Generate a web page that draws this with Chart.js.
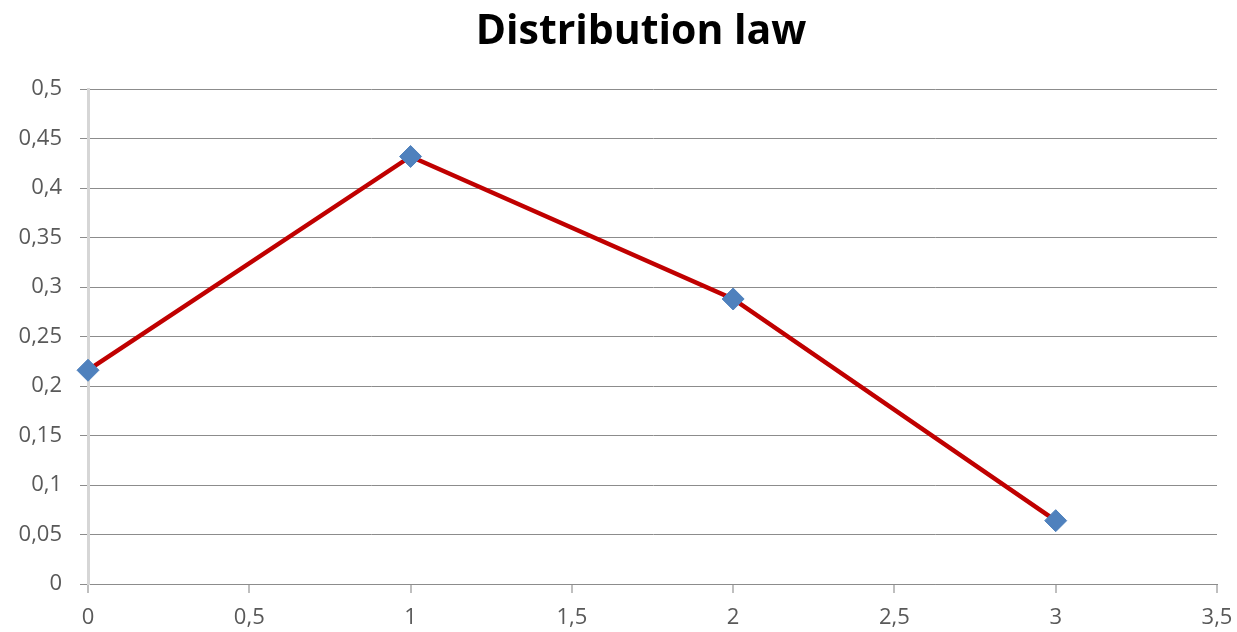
<!DOCTYPE html>
<html>
<head>
<meta charset="utf-8">
<script src="https://cdn.jsdelivr.net/npm/chart.js@4.4.1/dist/chart.umd.min.js"></script>
<style>
  html, body { margin: 0; padding: 0; background: #ffffff; }
  #wrap { width: 1237px; height: 632px; }
</style>
</head>
<body>
<div id="wrap"><canvas id="c" width="1237" height="632"></canvas></div>
<script>
// Distribution law of a discrete random variable
const xValues = [0, 1, 2, 3];
const probabilities = [0.216, 0.432, 0.288, 0.064];

const xTickRange = { min: 0, max: 3.5, step: 0.5 };
const yTickRange = { min: 0, max: 0.5, step: 0.05 };

const chartTitle = 'Distribution law';

// Decimal comma formatting for tick labels
function commaLabel(v) {
  return String(Number(v.toFixed(2))).replace('.', ',');
}

const points = xValues.map((x, i) => ({ x: x, y: probabilities[i] }));

// Center the title between the value labels and the right edge of the plot
const titleSpan = {
  id: 'titleSpan',
  afterLayout(chart) {
    const t = chart.titleBlock;
    if (t) { t.left = 65; t.right = chart.chartArea.right; }
  }
};

new Chart(document.getElementById('c'), {
  type: 'line',
  data: {
    datasets: [{
      data: points,
      borderColor: '#C00000',
      borderWidth: 4.5,
      pointStyle: 'rectRot',
      pointRadius: 11,
      pointHoverRadius: 11,
      pointBackgroundColor: '#4F81BD',
      pointBorderColor: '#4F81BD',
      pointBorderWidth: 1,
      tension: 0,
      fill: false,
      clip: false
    }]
  },
  plugins: [titleSpan],
  options: {
    responsive: false,
    animation: false,
    events: [],
    layout: { padding: { left: 0, right: 20, top: 0, bottom: 0 } },
    plugins: {
      legend: { display: false },
      tooltip: { enabled: false },
      title: {
        display: true,
        text: chartTitle,
        color: '#000000',
        font: { family: 'Open Sans', size: 41, weight: 'bold' },
        padding: { top: 8, bottom: 32 }
      }
    },
    scales: {
      x: {
        type: 'linear',
        min: xTickRange.min,
        max: xTickRange.max,
        afterFit: (s) => { s.height = 48; s.paddingRight = 0; s.paddingLeft = 0; },
        border: { color: '#8c8c8c', width: 1 },
        grid: { drawOnChartArea: false, drawTicks: true, tickLength: 9, color: '#bfbfbf', lineWidth: 2 },
        ticks: {
          stepSize: xTickRange.step,
          color: '#595959',
          padding: 12,
          maxRotation: 0,
          font: { family: 'Open Sans', size: 22 },
          callback: (v) => commaLabel(v)
        }
      },
      y: {
        type: 'linear',
        min: yTickRange.min,
        max: yTickRange.max,
        afterFit: (s) => { s.width = 88; },
        border: { color: '#d6d6d6', width: 3 },
        grid: { color: '#8c8c8c', lineWidth: 1, drawTicks: true, tickLength: 8 },
        ticks: {
          stepSize: yTickRange.step,
          color: '#595959',
          padding: 18,
          font: { family: 'Open Sans', size: 22 },
          callback: (v) => commaLabel(v)
        }
      }
    }
  }
});
</script>
</body>
</html>
